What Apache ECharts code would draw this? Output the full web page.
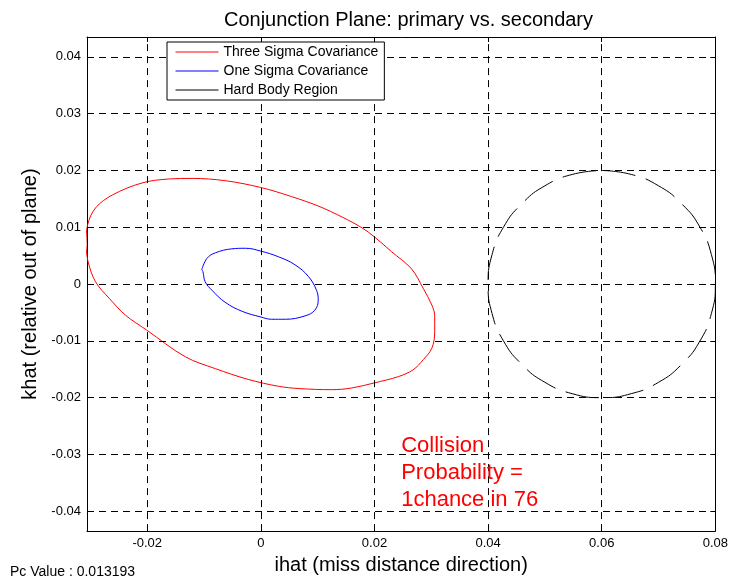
<!DOCTYPE html>
<html>
<head>
<meta charset="utf-8">
<script src="https://cdn.jsdelivr.net/npm/echarts@6/dist/echarts.min.js"></script>
<style>
html,body{margin:0;padding:0;background:#fff;}
#chart{width:731px;height:580px;}
</style>
</head>
<body>
<div id="chart"></div>
<script>
// ---- Data ----
var xTicks = [-0.02, 0, 0.02, 0.04, 0.06, 0.08];
var yTicks = [-0.04, -0.03, -0.02, -0.01, 0, 0.01, 0.02, 0.03, 0.04];
var xRange = [-0.0306, 0.08];
var yRange = [-0.0435, 0.0435];

var threeSigma = [
  [-0.0308, 0.0069], [-0.0305, 0.0104], [-0.0291, 0.0134], [-0.0261, 0.0157],
  [-0.0209, 0.0178], [-0.0162, 0.0185], [-0.0121, 0.0186], [-0.0063, 0.0182],
  [0.0000, 0.0170], [0.0054, 0.0154], [0.0102, 0.0137], [0.0143, 0.0118],
  [0.0178, 0.0099], [0.0200, 0.0083], [0.0230, 0.0057], [0.0265, 0.0027],
  [0.0286, -0.0008], [0.0301, -0.0037], [0.0306, -0.0056], [0.0306, -0.0084],
  [0.0301, -0.0113], [0.0286, -0.0133], [0.0268, -0.0151], [0.0242, -0.0163],
  [0.0200, -0.0174], [0.0160, -0.0183], [0.0125, -0.0186], [0.0067, -0.0184],
  [0.0031, -0.0180], [-0.0022, -0.0168], [-0.0080, -0.0149], [-0.0133, -0.0128],
  [-0.0201, -0.0081], [-0.0238, -0.0055], [-0.0267, -0.0025], [-0.0291, 0.0004],
  [-0.0304, 0.0039], [-0.0308, 0.0069]
];

var oneSigma = [
  [-0.0104, 0.0025], [-0.0095, 0.0045], [-0.0080, 0.0055], [-0.0051, 0.0062],
  [-0.0027, 0.0063], [0.0000, 0.0058], [0.0031, 0.0048], [0.0060, 0.0034],
  [0.0084, 0.0013], [0.0098, -0.0011], [0.0101, -0.0028], [0.0095, -0.0046],
  [0.0078, -0.0056], [0.0043, -0.0062], [0.0019, -0.0062], [0.0000, -0.0058],
  [-0.0033, -0.0048], [-0.0063, -0.0032], [-0.0086, -0.0011], [-0.0098, 0.0004],
  [-0.0102, 0.0022], [-0.0104, 0.0025]
];

var hardBody = [
  [0.0600, 0.0200], [0.0652, 0.0193], [0.0700, 0.0173], [0.0741, 0.0141],
  [0.0773, 0.0100], [0.0793, 0.0052], [0.0800, 0.0000], [0.0793, -0.0052],
  [0.0773, -0.0100], [0.0741, -0.0141], [0.0700, -0.0173], [0.0652, -0.0193],
  [0.0600, -0.0200], [0.0548, -0.0193], [0.0500, -0.0173], [0.0459, -0.0141],
  [0.0427, -0.0100], [0.0407, -0.0052], [0.0400, 0.0000], [0.0407, 0.0052],
  [0.0427, 0.0100], [0.0459, 0.0141], [0.0500, 0.0173], [0.0548, 0.0193],
  [0.0600, 0.0200]
];

var seriesNames = ['Three Sigma Covariance', 'One Sigma Covariance', 'Hard Body Region'];
var titleText = 'Conjunction Plane: primary vs. secondary';
var xName = 'ihat (miss distance direction)';
var yName = 'khat (relative out of plane)';
var noteLines = ['Collision', 'Probability =', '1chance in 76'];
var notePos = [0.0247, -0.0262];
var pcText = 'Pc Value : 0.013193';

// ---- Chart ----
var FONT = '"Liberation Sans", Arial, Helvetica, sans-serif';
var chart = echarts.init(document.getElementById('chart'), null, {renderer: 'canvas'});

function fmt(v) {
  if (Math.abs(v) < 1e-12) return '0';
  return v.toFixed(2);
}

var gridLineStyle = {type: [7, 5], color: '#000', width: 1};
var markLines = [];
xTicks.forEach(function (v) { if (v < xRange[1]) markLines.push({xAxis: v}); });
yTicks.forEach(function (v) { markLines.push({yAxis: v}); });

function tick(vals) {
  return {show: true, inside: true, length: 5, customValues: vals, lineStyle: {color: '#000', width: 1}};
}

var option = {
  backgroundColor: '#fff',
  animation: false,
  textStyle: {fontFamily: FONT},
  title: {
    text: titleText,
    left: 403.5,
    top: 5,
    textAlign: 'center',
    textStyle: {fontFamily: FONT, fontSize: 20, fontWeight: 'normal', color: '#000'}
  },
  grid: {left: 87, right: 13, top: 37, bottom: 46, containLabel: false, show: false},
  legend: {
    show: true,
    orient: 'vertical',
    left: 167,
    top: 42,
    padding: [3, 6, 3, 8],
    itemWidth: 43,
    itemHeight: 14,
    itemGap: 5,
    backgroundColor: '#fff',
    borderColor: '#000',
    borderWidth: 1,
    borderRadius: 0,
    selectedMode: false,
    z: 20,
    itemStyle: {opacity: 0},
    lineStyle: {width: 1},
    textStyle: {fontFamily: FONT, fontSize: 14, color: '#000'},
    data: [
      {name: seriesNames[0]},
      {name: seriesNames[1]},
      {name: seriesNames[2], lineStyle: {type: 'solid', width: 1}}
    ]
  },
  xAxis: [{
    type: 'value',
    min: xRange[0], max: xRange[1],
    position: 'bottom',
    name: xName,
    nameLocation: 'middle',
    nameGap: 19,
    nameTextStyle: {fontFamily: FONT, fontSize: 20, color: '#000'},
    axisLine: {show: true, onZero: false, lineStyle: {color: '#000', width: 1}},
    axisTick: tick(xTicks),
    axisLabel: {customValues: xTicks, formatter: fmt, margin: 6, fontFamily: FONT, fontSize: 13, color: '#000'},
    splitLine: {show: false}
  }, {
    type: 'value',
    min: xRange[0], max: xRange[1],
    position: 'top',
    axisLine: {show: true, onZero: false, lineStyle: {color: '#000', width: 1}},
    axisTick: tick(xTicks),
    axisLabel: {show: false},
    splitLine: {show: false}
  }],
  yAxis: [{
    type: 'value',
    min: yRange[0], max: yRange[1],
    position: 'left',
    name: yName,
    nameLocation: 'middle',
    nameGap: 37,
    nameTextStyle: {fontFamily: FONT, fontSize: 20, color: '#000'},
    axisLine: {show: true, onZero: false, lineStyle: {color: '#000', width: 1}},
    axisTick: tick(yTicks),
    axisLabel: {customValues: yTicks, formatter: fmt, margin: 6, fontFamily: FONT, fontSize: 13, color: '#000'},
    splitLine: {show: false}
  }, {
    type: 'value',
    min: yRange[0], max: yRange[1],
    position: 'right',
    axisLine: {show: true, onZero: false, lineStyle: {color: '#000', width: 1}},
    axisTick: tick(yTicks),
    axisLabel: {show: false},
    splitLine: {show: false}
  }],
  series: [
    {
      name: 'grid',
      type: 'line',
      data: [],
      z: 1,
      silent: true,
      markLine: {
        silent: true,
        symbol: ['none', 'none'],
        label: {show: false},
        lineStyle: gridLineStyle,
        emphasis: {disabled: true},
        animation: false,
        data: markLines
      }
    },
    {
      name: seriesNames[0], type: 'line', data: threeSigma, smooth: 0.35,
      showSymbol: false, symbol: 'none', z: 3,
      lineStyle: {color: '#ff0000', width: 1}, itemStyle: {color: '#ff0000'}
    },
    {
      name: seriesNames[1], type: 'line', data: oneSigma, smooth: 0.4,
      showSymbol: false, symbol: 'none', z: 3,
      lineStyle: {color: '#0000ff', width: 1}, itemStyle: {color: '#0000ff'}
    },
    {
      name: seriesNames[2], type: 'line', data: hardBody, smooth: 0.5,
      showSymbol: false, symbol: 'none', z: 3,
      lineStyle: {color: '#000', width: 1, type: [34, 11]}, itemStyle: {color: '#000'}
    }
  ]
};
chart.setOption(option);

var p = chart.convertToPixel({xAxisIndex: 0, yAxisIndex: 0}, notePos);
chart.setOption({
  graphic: [
    {
      type: 'text', left: p[0], top: p[1], z: 10,
      style: {text: noteLines.join('\n'), fill: '#ff0000', font: '22px ' + FONT, lineHeight: 27}
    },
    {
      type: 'text', left: 10, top: 565, z: 10,
      style: {text: pcText, fill: '#000', font: '14px ' + FONT}
    }
  ]
});
</script>
</body>
</html>
